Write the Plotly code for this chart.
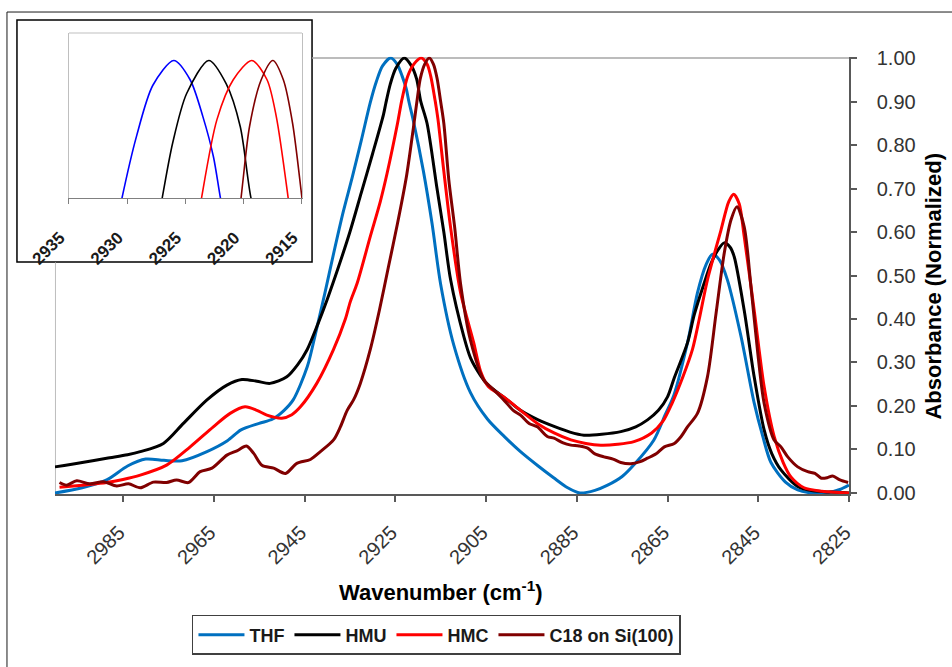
import plotly.graph_objects as go

# ---- data: normalized absorbance vs wavenumber (cm-1) ----
thf_wn = [3000, 2994, 2988.6, 2984, 2980, 2976, 2972, 2966.5, 2962, 2959,
          2955, 2952, 2949.5, 2947.5, 2944.4, 2942.5, 2940.5, 2938.6, 2936.5, 2934.5,
          2932.5, 2930.5, 2929.2, 2927.8, 2926, 2924.6, 2923.5, 2922.6, 2922, 2921,
          2918.8, 2916.9, 2915, 2912.1, 2908.4, 2904.7, 2901, 2897.4, 2893.5, 2890.1,
          2887, 2884.3, 2881, 2878.2, 2875, 2872.4, 2868, 2865.5, 2863.6, 2860.5,
          2858.4, 2856.5, 2855.1, 2853.5, 2851.8, 2848.8, 2845.9, 2844, 2842.2, 2839,
          2836.3, 2834, 2830, 2827, 2825]
thf_abs = [0.000, 0.012, 0.030, 0.062, 0.078, 0.075, 0.074, 0.095, 0.120, 0.145,
           0.160, 0.170, 0.190, 0.214, 0.290, 0.370, 0.460, 0.550, 0.645, 0.725,
           0.810, 0.898, 0.945, 0.982, 1.000, 0.986, 0.959, 0.930, 0.900, 0.855,
           0.740, 0.620, 0.480, 0.340, 0.230, 0.170, 0.130, 0.095, 0.062, 0.035,
           0.012, 0.000, 0.006, 0.018, 0.038, 0.065, 0.122, 0.180, 0.225, 0.350,
           0.460, 0.525, 0.549, 0.535, 0.490, 0.360, 0.207, 0.130, 0.070, 0.025,
           0.007, 0.001, 0.000, 0.008, 0.018]

hmu_wn = [3000, 2994, 2988.6, 2984, 2981.2, 2976.1, 2971.7, 2966.5, 2962.1, 2958.8,
          2955.5, 2952.6, 2948.9, 2946.5, 2944.4, 2942, 2940, 2937.5, 2935, 2932.5,
          2930, 2927.6, 2927.1, 2926.1, 2924.9, 2923, 2921.5, 2920.3, 2919.4, 2918,
          2915.8, 2914.3, 2912.8, 2909.9, 2908.4, 2906.2, 2904.7, 2900.3, 2897.4, 2893.5,
          2890, 2886.5, 2883.4, 2879.5, 2875.3, 2872, 2869.4, 2867, 2865, 2863.5,
          2860.6, 2859.1, 2857, 2855.4, 2853.8, 2852.5, 2851.2, 2850.3, 2848.1, 2845.9,
          2843.7, 2842, 2840, 2836.3, 2833, 2829, 2825]
hmu_abs = [0.060, 0.070, 0.080, 0.088, 0.095, 0.114, 0.160, 0.214, 0.248, 0.261,
           0.257, 0.252, 0.267, 0.295, 0.330, 0.390, 0.445, 0.520, 0.600, 0.690,
           0.780, 0.870, 0.895, 0.940, 0.976, 1.000, 0.983, 0.952, 0.901, 0.850,
           0.700, 0.600, 0.490, 0.360, 0.310, 0.270, 0.250, 0.214, 0.190, 0.168,
           0.153, 0.140, 0.133, 0.135, 0.141, 0.152, 0.168, 0.190, 0.221, 0.265,
           0.345, 0.410, 0.480, 0.528, 0.560, 0.575, 0.565, 0.543, 0.420, 0.267,
           0.145, 0.090, 0.053, 0.015, 0.005, 0.002, 0.000]

hmc_wn = [2999, 2994, 2988.6, 2985, 2981.2, 2975.4, 2970.2, 2965.1, 2961.4, 2958.1,
          2955.5, 2953.3, 2950, 2947.8, 2945.9, 2942.3, 2938.6, 2936, 2934.9, 2933.4,
          2930.5, 2928.3, 2926.8, 2924.5, 2923.6, 2922.3, 2920.9, 2919.3, 2918, 2917.2,
          2916.2, 2915.6, 2914.3, 2912.8, 2910.6, 2907.7, 2906.2, 2904.5, 2901.1, 2897.4,
          2893.7, 2890, 2886.3, 2883, 2879.7, 2876, 2872.4, 2868.5, 2866, 2864,
          2861.5, 2859.5, 2858, 2856.2, 2853.2, 2851.5, 2850.4, 2849.2, 2848.1, 2845.9,
          2843.7, 2841.5, 2839.5, 2837.8, 2834.9, 2831, 2825]
hmc_abs = [0.013, 0.018, 0.024, 0.031, 0.041, 0.064, 0.106, 0.152, 0.183, 0.198,
           0.190, 0.179, 0.172, 0.180, 0.198, 0.252, 0.330, 0.400, 0.440, 0.482,
           0.590, 0.670, 0.735, 0.850, 0.901, 0.957, 0.986, 1.000, 0.986, 0.959,
           0.901, 0.860, 0.740, 0.610, 0.460, 0.345, 0.280, 0.245, 0.221, 0.190,
           0.160, 0.138, 0.122, 0.114, 0.110, 0.112, 0.118, 0.138, 0.165, 0.206,
           0.270, 0.330, 0.400, 0.490, 0.605, 0.670, 0.687, 0.665, 0.590, 0.420,
           0.244, 0.130, 0.070, 0.037, 0.012, 0.004, 0.000]

c18_wn = [2999, 2997.5, 2995.2, 2992.3, 2989.3, 2986.4, 2983.8, 2981.2, 2978.3, 2975.4,
          2973.2, 2970.6, 2968, 2965.4, 2962.1, 2959.9, 2957.8, 2956.2, 2954.4, 2951.8,
          2949.2, 2946.7, 2943.7, 2941.5, 2938.6, 2937.1, 2935.6, 2934.2, 2932.7, 2930.5,
          2928.5, 2926.5, 2924.5, 2922.5, 2921, 2920.1, 2919.5, 2918.5, 2917.5,
          2916.6, 2915.8, 2915, 2914.3, 2913.2, 2911.9, 2910.6, 2908.4, 2905.5, 2903.3,
          2901.1, 2899, 2897.4, 2895.5, 2893.7, 2891.5, 2890, 2888, 2886.3, 2884.5,
          2882.6, 2881, 2879, 2877, 2875.3, 2873.1, 2871, 2869.4, 2867.5, 2865.7,
          2863.5, 2862, 2860.6, 2858.4, 2856.2, 2854.3, 2852.5, 2851, 2849.7, 2848.1,
          2846.6, 2845.1, 2843.7, 2841.5, 2840, 2838.5, 2836.3, 2834.1, 2832.5, 2831.1,
          2829.8, 2828.6, 2827, 2825.2]
c18_abs = [0.024, 0.018, 0.028, 0.021, 0.026, 0.016, 0.021, 0.012, 0.025, 0.024,
           0.030, 0.024, 0.049, 0.057, 0.087, 0.097, 0.108, 0.091, 0.064, 0.057,
           0.045, 0.068, 0.077, 0.095, 0.122, 0.152, 0.190, 0.214, 0.252, 0.330,
           0.420, 0.520, 0.620, 0.730, 0.840, 0.910, 0.952, 0.986, 1.000,
           0.986, 0.954, 0.900, 0.850, 0.720, 0.610, 0.480, 0.350, 0.260, 0.237,
           0.214, 0.190, 0.179, 0.160, 0.152, 0.130, 0.126, 0.115, 0.110, 0.108,
           0.103, 0.090, 0.083, 0.078, 0.070, 0.067, 0.072, 0.080, 0.090, 0.106,
           0.114, 0.130, 0.152, 0.183, 0.267, 0.413, 0.551, 0.628, 0.658, 0.612,
           0.474, 0.321, 0.206, 0.122, 0.106, 0.083, 0.060, 0.049, 0.045, 0.034,
           0.035, 0.039, 0.030, 0.024]

series_names = ["THF", "HMU", "HMC", "C18 on Si(100)"]
main_colors = ["#0070C0", "#000000", "#FF0000", "#800000"]
inset_colors = ["#0000FF", "#000000", "#FF0000", "#800000"]

main_ticks = [2985, 2965, 2945, 2925, 2905, 2885, 2865, 2845, 2825]
inset_ticks = [2935, 2930, 2925, 2920, 2915]
y_ticks = [0.0, 0.1, 0.2, 0.3, 0.4, 0.5, 0.6, 0.7, 0.8, 0.9, 1.0]

FONT = "Liberation Sans, Arial, sans-serif"
AXIS_GREY = "#595959"
FRAME_GREY = "#a6a6a6"

xs = [thf_wn, hmu_wn, hmc_wn, c18_wn]
ys = [thf_abs, hmu_abs, hmc_abs, c18_abs]

fig = go.Figure()

# main spectra
for name, x, y, col in zip(series_names, xs, ys, main_colors):
    fig.add_trace(go.Scatter(
        x=x, y=y, name=name, mode="lines",
        line=dict(color=col, width=3, shape="spline", smoothing=0.8),
        xaxis="x", yaxis="y"))

# inset: close-up of the CH2 asymmetric stretch maxima
for name, x, y, col in zip(series_names, xs, ys, inset_colors):
    fig.add_trace(go.Scatter(
        x=x, y=y, name=name, mode="lines", showlegend=False,
        line=dict(color=col, width=1.6, shape="spline", smoothing=0.8),
        xaxis="x2", yaxis="y2"))

shapes = [
    # outer chart frame
    dict(type="rect", xref="paper", yref="paper", x0=-0.0036, x1=1.13, y0=-0.37, y1=1.0168,
         line=dict(color="#1a1a1a", width=1), fillcolor="rgba(0,0,0,0)", layer="below"),
    # inset frame
    dict(type="rect", xref="paper", yref="paper", x0=0.0083, x1=0.36, y0=0.4905, y1=1.0,
         line=dict(color="#000000", width=1.5), fillcolor="white", layer="below"),
    # light plot-area border of the main panel (top and left)
    dict(type="line", xref="paper", yref="y", x0=0.36, x1=1.0, y0=1.0, y1=1.0,
         line=dict(color=FRAME_GREY, width=1.5), layer="below"),
    dict(type="line", xref="x", yref="y", x0=3000, x1=3000, y0=-0.003, y1=0.531,
         line=dict(color=FRAME_GREY, width=1.5), layer="below"),
    # top border of the inset plot area
    dict(type="line", xref="x2 domain", yref="y2 domain", x0=0, x1=1, y0=1, y1=1,
         line=dict(color="#bfbfbf", width=1.2), layer="below"),
]

annotations = [
    dict(text="<b>Wavenumber (cm<sup>-1</sup>)</b>", xref="paper", yref="paper",
         x=0.5137, y=-0.2021, xanchor="center", yanchor="middle", showarrow=False,
         font=dict(family=FONT, size=22, color="#000000")),
    dict(text="<b>Absorbance (Normalized)</b>", xref="paper", yref="paper",
         x=1.1013, y=0.441, xanchor="center", yanchor="middle", showarrow=False,
         textangle=-90, font=dict(family=FONT, size=22, color="#000000")),
]

fig.update_layout(
    width=952, height=667,
    margin=dict(l=10, r=103, t=20, b=172),
    paper_bgcolor="white",
    plot_bgcolor="rgba(0,0,0,0)",
    font=dict(family=FONT, color="#262626"),
    shapes=shapes,
    annotations=annotations,
    showlegend=True,
    legend=dict(
        orientation="h", x=0.5083, xanchor="center", y=-0.2526, yanchor="top",
        bordercolor="#404040", borderwidth=1.5, bgcolor="white",
        font=dict(family=FONT, size=18, color="#1a1a1a", weight="bold"),
        itemwidth=46,
    ),
    xaxis=dict(
        domain=[0.0536, 1.0], range=[3000, 2825], anchor="y",
        tickmode="array", tickvals=main_ticks, ticktext=[str(t) for t in main_ticks],
        tickangle=-45, tickfont=dict(size=20, color="#333333"),
        ticklabelstandoff=11, ticklabelshift=4,
        ticks="outside", ticklen=6, tickwidth=1.5, tickcolor=AXIS_GREY,
        showline=True, linecolor=AXIS_GREY, linewidth=1.5,
        showgrid=False, zeroline=False, automargin=False,
    ),
    yaxis=dict(
        domain=[0.0015, 0.9227], range=[-0.003, 1.003], anchor="x", side="right",
        tickmode="array", tickvals=y_ticks, tickformat=".2f",
        tickfont=dict(size=20, color="#333333"), ticklabelstandoff=16,
        ticks="outside", ticklen=6, tickwidth=1.5, tickcolor=AXIS_GREY,
        showline=True, linecolor=AXIS_GREY, linewidth=1.5,
        showgrid=False, zeroline=False, automargin=False,
    ),
    xaxis2=dict(
        domain=[0.0703, 0.3480], range=[2935, 2915], anchor="y2",
        tickmode="array", tickvals=inset_ticks, ticktext=[str(t) for t in inset_ticks],
        tickangle=-45, tickfont=dict(size=17, color="#1a1a1a", weight="bold"),
        ticklabelstandoff=17, ticklabelshift=9,
        ticks="outside", ticklen=5, tickwidth=1, tickcolor="#808080",
        showline=True, linecolor="#808080", linewidth=1.2,
        showgrid=False, zeroline=False, automargin=False,
    ),
    yaxis2=dict(
        domain=[0.6253, 0.9726], range=[0.9, 1.02], anchor="x2",
        showticklabels=False, ticks="",
        showline=True, mirror=True, linecolor="#bfbfbf", linewidth=1.2,
        showgrid=False, zeroline=False, automargin=False,
    ),
)

fig.write_html("out.html")
